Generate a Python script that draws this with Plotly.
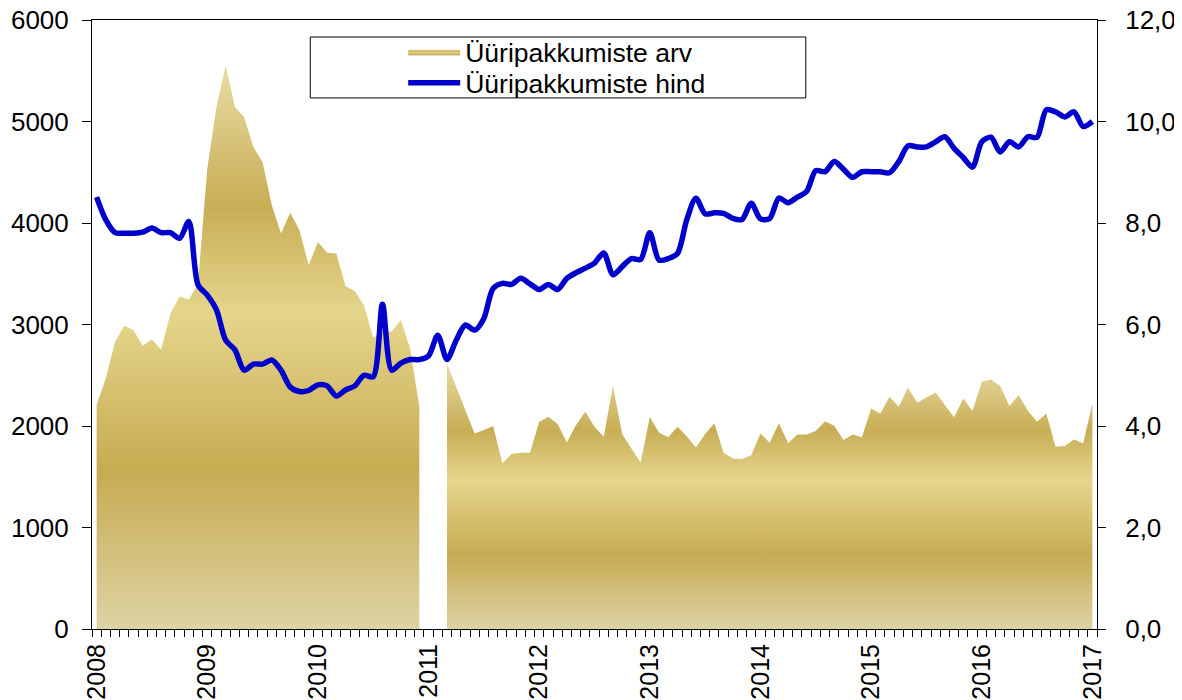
import plotly.graph_objects as go

# Monthly data, Jan 2008 .. Jan 2017 (month index 0..108)
months = list(range(109))
year_ticks = [0, 12, 24, 36, 48, 60, 72, 84, 96, 108]
year_labels = ["2008", "2009", "2010", "2011", "2012", "2013", "2014", "2015", "2016", "2017"]

offers = [
    2206, 2469, 2829, 2987, 2944, 2790, 2853, 2754, 3109, 3273, 3247, 3400,
    4537, 5143, 5554, 5143, 5045, 4749, 4602, 4175, 3897, 4100, 3929, 3584,
    3814, 3706, 3699, 3378, 3331, 3190, 2870, 2920, 2930, 3043, 2764, 2189,
    None, None, 2616, 2386, 2173, 1927, 1960, 1999, 1632, 1723, 1736, 1736,
    2042, 2091, 2019, 1838, 2009, 2140, 1992, 1894, 2393, 1920, 1779, 1638,
    2091, 1933, 1888, 1992, 1900, 1789, 1920, 2026, 1736, 1681, 1674, 1713,
    1927, 1835, 2026, 1829, 1917, 1917, 1950, 2048, 2002, 1861, 1917, 1888,
    2173, 2124, 2288, 2189, 2380, 2229, 2282, 2331, 2206, 2085, 2272, 2147,
    2435, 2459, 2393, 2196, 2304, 2150, 2042, 2124, 1795, 1802, 1868, 1829,
    2222,
]

price = [
    8.51, 8.06, 7.81, 7.80, 7.80, 7.82, 7.90, 7.81, 7.81, 7.70, 8.03, 6.78,
    6.58, 6.29, 5.69, 5.50, 5.10, 5.22, 5.22, 5.30, 5.10, 4.77, 4.68, 4.70,
    4.81, 4.79, 4.59, 4.71, 4.79, 5.00, 4.97, 6.40, 5.10, 5.24, 5.31, 5.31,
    5.38, 5.79, 5.31, 5.69, 5.99, 5.89, 6.12, 6.71, 6.81, 6.79, 6.91, 6.80,
    6.69, 6.79, 6.69, 6.91, 7.02, 7.11, 7.21, 7.41, 6.98, 7.14, 7.30, 7.28,
    7.81, 7.27, 7.30, 7.40, 8.06, 8.49, 8.18, 8.20, 8.19, 8.09, 8.07, 8.39,
    8.08, 8.09, 8.49, 8.40, 8.51, 8.62, 9.03, 9.01, 9.21, 9.06, 8.90, 9.01,
    9.01, 9.01, 8.99, 9.21, 9.52, 9.50, 9.50, 9.60, 9.70, 9.47, 9.29, 9.10,
    9.60, 9.69, 9.40, 9.60, 9.50, 9.70, 9.69, 10.23, 10.19, 10.09, 10.19, 9.90,
    10.00,
]

name_area = "Üüripakkumiste arv"
name_line = "Üüripakkumiste hind"

FONT = "Liberation Sans, Arial, sans-serif"
gold_scale = [
    [0.0, "#ded3a4"],
    [0.28, "#c7ab52"],
    [0.56, "#e5d68c"],
    [0.75, "#c8ad55"],
    [1.0, "#e8dca4"],
]

# split the area series into contiguous segments (each gets its own gradient)
segments = []
cur_x, cur_y = [], []
for m, v in zip(months, offers):
    if v is None:
        if cur_x:
            segments.append((cur_x, cur_y))
        cur_x, cur_y = [], []
    else:
        cur_x.append(m)
        cur_y.append(v)
if cur_x:
    segments.append((cur_x, cur_y))

fig = go.Figure()
for k, (sx, sy) in enumerate(segments):
    fig.add_trace(go.Scatter(
        x=sx, y=sy, mode="lines", fill="tozeroy",
        line=dict(width=0, color="#d2ba66"),
        fillgradient=dict(type="vertical", colorscale=gold_scale, start=0, stop=max(sy)),
        name=name_area, showlegend=(k == 0), legendgroup="arv", legend="legend",
        hoverinfo="skip",
    ))

fig.add_trace(go.Scatter(
    x=months, y=price, mode="lines", yaxis="y2",
    line=dict(color="#0000cc", width=5.5, shape="spline", smoothing=0.8),
    name=name_line, legend="legend2",
))

tickfont = dict(family=FONT, size=26, color="black")
xtickfont = dict(family=FONT, size=25, color="black")
legfont = dict(family=FONT, size=26.5, color="black")
xr = [-0.5, 108.5]

# the page body has an 8px margin: figure is drawn 8px right/down of the window origin
OFF = 8
W, H = 1182 - OFF, 700 - OFF
# plot area in window pixels: x 91.5..1097.5, y 20..629.5
PL, PR, PT, PB = 91.5, 1097.5, 20.0, 629.5
def px_x(p):
    return (p - PL) / (PR - PL)
def px_y(p):
    return (PB - p) / (PB - PT)

fig.update_layout(
    width=W, height=H,
    margin=dict(l=PL - OFF, r=W - (PR - OFF), t=PT - OFF, b=H - (PB - OFF), autoexpand=False),
    paper_bgcolor="white", plot_bgcolor="white",
    separators=", ",
    font=dict(family=FONT, size=26, color="black"),
    showlegend=True,
    legend=dict(
        x=px_x(403), y=px_y(52), xanchor="left", yanchor="middle",
        bgcolor="rgba(0,0,0,0)", borderwidth=0, font=legfont, itemwidth=52,
    ),
    legend2=dict(
        x=px_x(403), y=px_y(83), xanchor="left", yanchor="middle",
        bgcolor="rgba(0,0,0,0)", borderwidth=0, font=legfont, itemwidth=52,
    ),
    xaxis=dict(
        range=xr, showgrid=False, zeroline=False, automargin=False,
        showline=True, linecolor="black", linewidth=1, mirror=True,
        tickmode="array", tickvals=year_ticks, ticktext=year_labels,
        tickangle=-90, ticks="", tickfont=xtickfont, ticklabelstandoff=4,
        ticklabeloverflow="allow",
        minor=dict(ticks="outside", ticklen=7, tickcolor="black", tickwidth=1,
                   tickmode="linear", tick0=-0.5, dtick=1),
    ),
    xaxis2=dict(
        range=xr, overlaying="x", anchor="y", showgrid=False, zeroline=False,
        showline=False, showticklabels=False, ticks="", automargin=False,
        minor=dict(ticks="inside", ticklen=7, tickcolor="black", tickwidth=1,
                   tickmode="linear", tick0=-0.5, dtick=1),
    ),
    yaxis=dict(
        range=[0, 6000], tickmode="linear", tick0=0, dtick=1000, automargin=False,
        showgrid=False, zeroline=False, showline=True, linecolor="black", linewidth=1,
        ticks="outside", ticklen=9, tickcolor="black", tickfont=tickfont,
        ticklabelstandoff=8, ticklabeloverflow="allow",
    ),
    yaxis2=dict(
        range=[0, 12], overlaying="y", side="right", anchor="x", automargin=False,
        tickmode="linear", tick0=0, dtick=2, tickformat=".1f",
        showgrid=False, zeroline=False, showline=True, linecolor="black", linewidth=1,
        ticks="outside", ticklen=8, tickcolor="black", tickfont=tickfont,
        ticklabelstandoff=14, ticklabeloverflow="allow",
    ),
    yaxis3=dict(
        range=[0, 6000], overlaying="y", side="left", anchor="x", automargin=False,
        tickmode="linear", tick0=0, dtick=1000, showticklabels=False,
        showgrid=False, zeroline=False, showline=False,
        ticks="inside", ticklen=9, tickcolor="black",
    ),
    yaxis4=dict(
        range=[0, 12], overlaying="y", side="right", anchor="x", automargin=False,
        tickmode="linear", tick0=0, dtick=2, showticklabels=False,
        showgrid=False, zeroline=False, showline=False,
        ticks="inside", ticklen=8, tickcolor="black",
    ),
    shapes=[dict(
        type="rect", xref="paper", yref="paper",
        x0=px_x(310), x1=px_x(806), y0=px_y(98), y1=px_y(37),
        line=dict(color="black", width=1), fillcolor="rgba(0,0,0,0)",
    )],
)

fig.write_html("out.html")
